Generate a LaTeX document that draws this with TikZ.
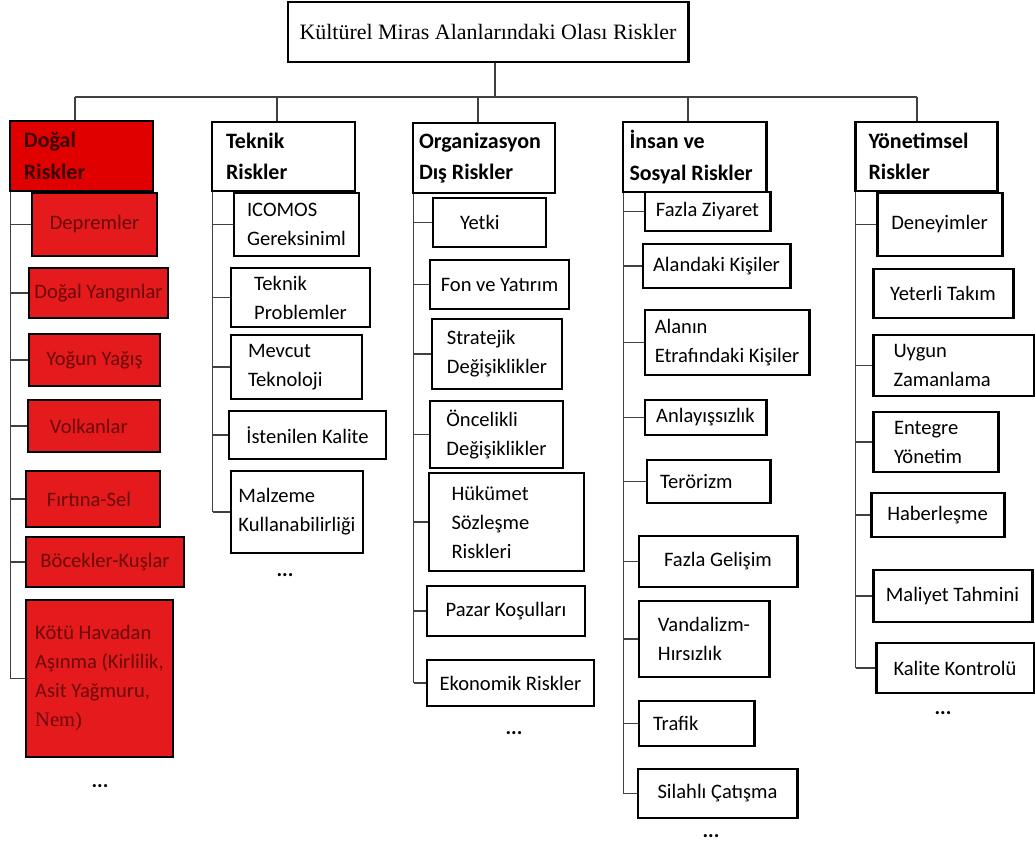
\documentclass[tikz,border=0pt]{standalone}
\usepackage{fontspec}
\setmainfont{Carlito}
\newfontfamily\baslikfont{Liberation Serif}

\definecolor{dogalkirmizi}{HTML}{E41A1C}
\definecolor{baskirmizi}{HTML}{E00000}
\definecolor{koyukirmizi}{HTML}{6B0A0A}
\definecolor{basyazi}{HTML}{3A0000}

\tikzset{
  kutu/.style={draw, line width=1.7pt, inner sep=0pt, align=center,
    font=\fontsize{11.7}{16.5}\selectfont},
  grup/.style={kutu, align=flush left, text width=115*0.02cm,
    font=\bfseries\fontsize{12.5}{18}\selectfont},
  kirmizi/.style={fill=dogalkirmizi, text=koyukirmizi},
  sola/.style={align=flush left, text width=#1*0.02cm},
  bag/.style={line width=0.8pt, draw=black!75},
  nokta/.style={font=\bfseries\fontsize{12}{14}\selectfont}
}

% kutu: [secenek]{ad}{x1}{y1}{x2}{y2}{metin}
\newcommand{\kutu}[7][]{%
  \node[kutu, minimum width={(#5-#3)*0.02cm}, minimum height={(#6-#4)*0.02cm}, #1]
    (#2) at ({(#3+#5)/2},{(#4+#6)/2}) {#7};}

\begin{document}
\begin{tikzpicture}[x=0.02cm, y=-0.02cm]
  \useasboundingbox (0,0) rectangle (1035,848);

  % ana kutu
  \kutu[font=\baslikfont\fontsize{12.5}{15}\selectfont]{ana}{288}{2}{688}{62}
    {Kültürel Miras Alanlarındaki Olası Riskler}

  % risk gruplari
  \kutu[grup, fill=baskirmizi, text=basyazi]{g1}{10}{121}{153}{191}{Doğal\\Riskler}
  \kutu[grup]{g2}{212}{122}{355}{191}{Teknik\\Riskler}
  \kutu[grup, text width=130*0.02cm]{g3}{413}{123}{555}{193}{Organizasyon\\Dış Riskler}
  \kutu[grup, text width=130*0.02cm]{g4}{623}{122}{766}{192}{İnsan ve\\Sosyal Riskler}
  \kutu[grup]{g5}{855}{122}{997}{191}{Yönetimsel\\Riskler}

  % dogal riskler
  \kutu[kirmizi]{a1}{32}{193}{157}{256}{Depremler}
  \kutu[kirmizi]{a2}{29}{268}{168}{318}{Doğal Yangınlar}
  \kutu[kirmizi]{a3}{29}{334}{160}{386}{Yoğun Yağış}
  \kutu[kirmizi, sola=88]{a4}{28}{400}{160}{452}{Volkanlar}
  \kutu[kirmizi, sola=92]{a5}{26}{471}{160}{527}{Fırtına-Sel}
  \kutu[kirmizi]{a6}{26}{537}{184}{587}{Böcekler-Kuşlar}
  \kutu[kirmizi, align=flush left]{a7}{26}{600}{173}{757}
    {Kötü Havadan\\Aşınma (Kirlilik,\\Asit Yağmuru,\\{\baslikfont Nem)}}

  % teknik riskler
  \kutu[align=flush left]{b1}{234}{193}{359}{256}{ICOMOS\\Gereksiniml}
  \kutu[align=flush left]{b2}{231}{268}{370}{327}{Teknik\\Problemler}
  \kutu[sola=97]{b3}{231}{335}{362}{399}{Mevcut\\Teknoloji}
  \kutu{b4}{229}{411}{386}{459}{İstenilen Kalite}
  \kutu[align=flush left]{b5}{231}{471}{363}{553}{Malzeme\\Kullanabilirliği}

  % organizasyon dis riskler
  \kutu[sola=59]{c1}{433}{198}{546}{247}{Yetki}
  \kutu{c2}{430}{260}{569}{309}{Fon ve Yatırım}
  \kutu[align=flush left]{c3}{432}{319}{562}{389}{Stratejik\\Değişiklikler}
  \kutu[align=flush left]{c4}{430}{401}{563}{468}{Öncelikli\\Değişiklikler}
  \kutu[sola=110]{c5}{429}{473}{584}{571}{Hükümet\\Sözleşme\\Riskleri}
  \kutu{c6}{427}{586}{585}{636}{Pazar Koşulları}
  \kutu{c7}{427}{660}{594}{706}{Ekonomik Riskler}

  % insan ve sosyal riskler
  \kutu{d1}{645}{192}{770}{231}{Fazla Ziyaret}
  \kutu{d2}{643}{244}{790}{288}{Alandaki Kişiler}
  \kutu[align=flush left]{d3}{645}{310}{809}{375}{Alanın\\Etrafındaki Kişiler}
  \kutu{d4}{645}{400}{766}{435}{Anlayışsızlık}
  \kutu[sola=97]{d5}{647}{460}{770}{503}{Terörizm}
  \kutu{d6}{639}{536}{797}{587}{Fazla Gelişim}
  \kutu[align=flush left]{d7}{639}{601}{769}{677}{Vandalizm-\\Hırsızlık}
  \kutu[sola=87]{d8}{639}{701}{754}{746}{Trafik}
  \kutu{d9}{638}{769}{797}{818}{Silahlı Çatışma}

  % yonetimsel riskler
  \kutu{e1}{877}{193}{1002}{256}{Deneyimler}
  \kutu{e2}{873}{269}{1013}{318}{Yeterli Takım}
  \kutu[sola=120]{e3}{873}{335}{1034}{396}{Uygun\\Zamanlama}
  \kutu[sola=83]{e4}{873}{412}{998}{472}{Entegre\\Yönetim}
  \kutu{e5}{871}{493}{1004}{537}{Haberleşme}
  \kutu{e6}{873}{570}{1032}{622}{Maliyet Tahmini}
  \kutu{e7}{876}{643}{1034}{693}{Kalite Kontrolü}

  % devami
  \node[nokta] (n1) at (100,786) {...};
  \node[nokta] (n2) at (285,575) {...};
  \node[nokta] (n3) at (514,733) {...};
  \node[nokta] (n4) at (711,836) {...};
  \node[nokta] (n5) at (943,713) {...};

  % ust baglantilar
  \coordinate (hat) at (495,97);
  \coordinate (u1) at (75,97);
  \coordinate (u2) at (277,97);
  \coordinate (u3) at (478,97);
  \coordinate (u4) at (688,97);
  \coordinate (u5) at (917,97);
  \draw[bag] (ana.south -| hat) -- (hat);
  \draw[bag] (u1) -- (u5);
  \foreach \i in {1,...,5}
    \draw[bag] (u\i) -- (u\i |- g\i.north);

  % dallar
  \coordinate (s1) at ([xshift=0.04cm]g1.south west);
  \coordinate (s2) at ([xshift=0.04cm]g2.south west);
  \coordinate (s3) at ([xshift=0.04cm]g3.south west);
  \coordinate (s4) at ([xshift=0.04cm]g4.south west);
  \coordinate (s5) at ([xshift=0.04cm]g5.south west);

  \draw[bag] (s1) -- (s1 |- a7.west);
  \foreach \k in {a1,a2,a3,a4,a5,a6,a7}
    \draw[bag] (s1 |- \k.west) -- (\k.west);
  \draw[bag] (s2) -- (s2 |- b5.west);
  \foreach \k in {b1,b2,b3,b4,b5}
    \draw[bag] (s2 |- \k.west) -- (\k.west);
  \draw[bag] (s3) -- (s3 |- c7.west);
  \foreach \k in {c1,c2,c3,c4,c5,c6,c7}
    \draw[bag] (s3 |- \k.west) -- (\k.west);
  \draw[bag] (s4) -- (s4 |- d9.west);
  \foreach \k in {d1,d2,d3,d4,d5,d6,d7,d8,d9}
    \draw[bag] (s4 |- \k.west) -- (\k.west);
  \draw[bag] (s5) -- (s5 |- e7.west);
  \foreach \k in {e1,e3,e4,e5,e6,e7}
    \draw[bag] (s5 |- \k.west) -- (\k.west);
\end{tikzpicture}
\end{document}
